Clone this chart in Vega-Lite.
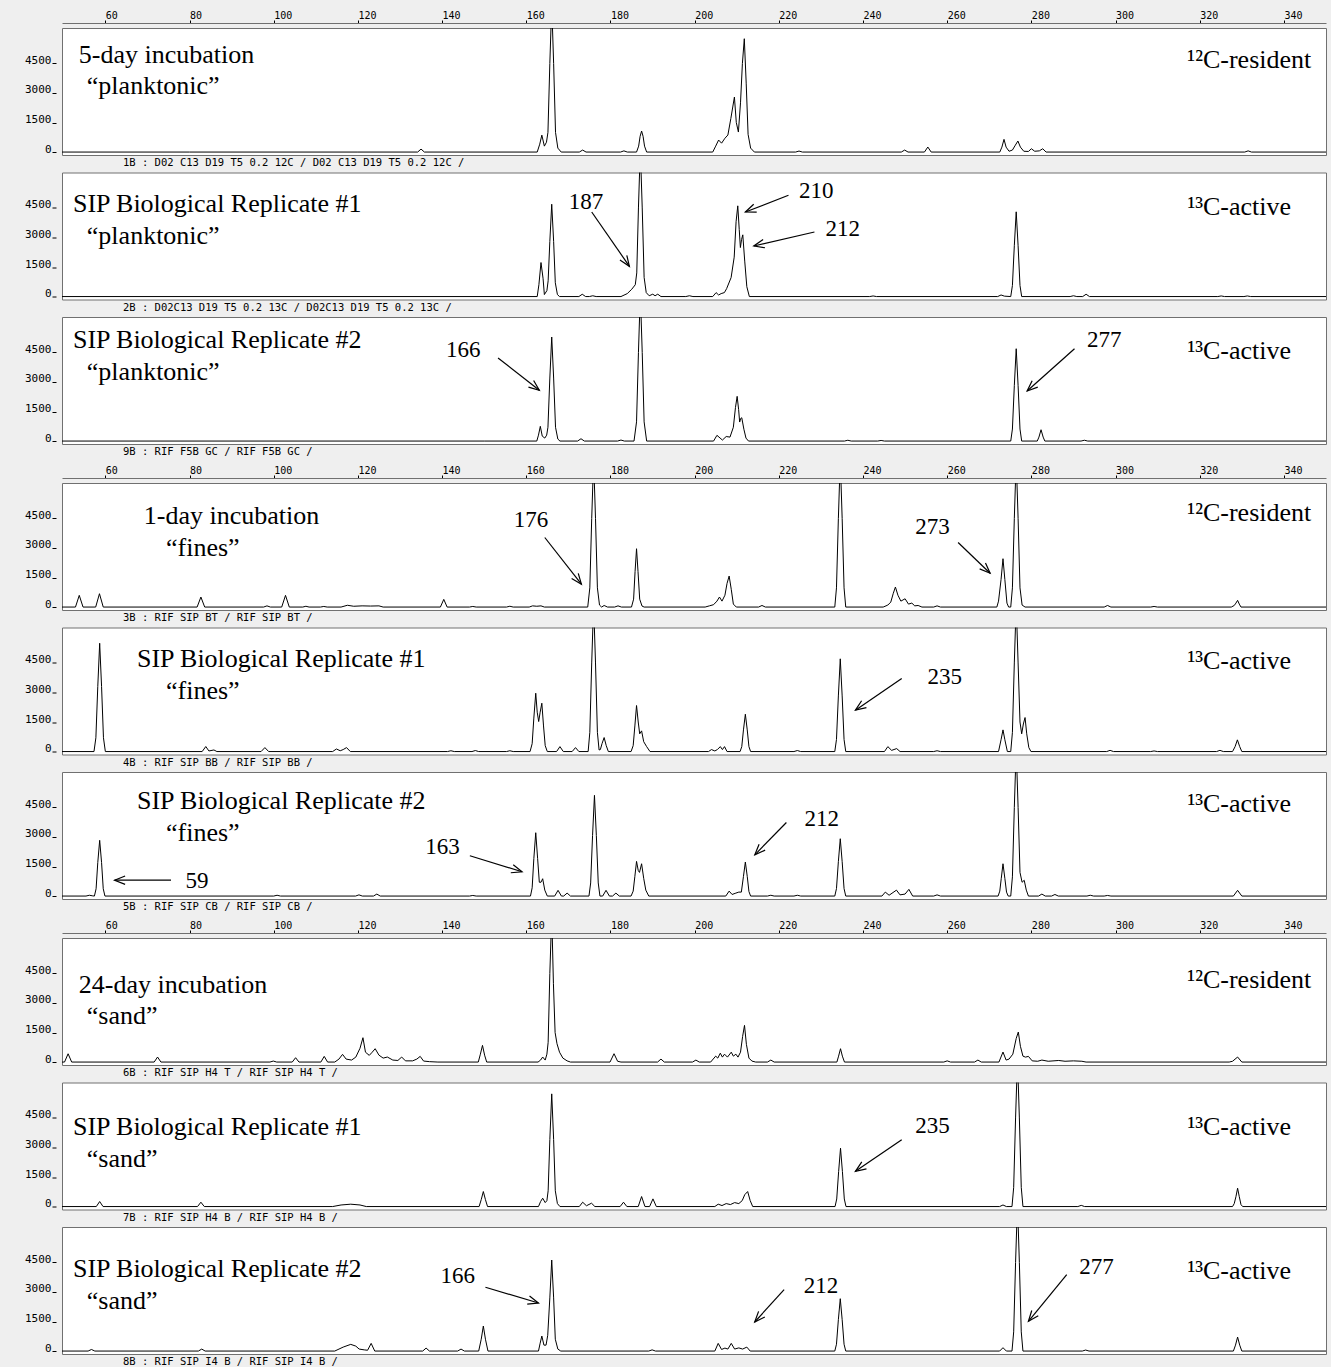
{
"$schema": "https://vega.github.io/schema/vega-lite/v6.json",
"background": "#efefef",
"padding": {"left": 24, "top": 9, "right": 6, "bottom": 0},
"bounds": "flush",
"spacing": 17.5,
"config": {
  "view": {"stroke": "#707070", "strokeWidth": 1, "fill": "white"},
  "axis": {"labelFont": "DejaVu Sans Mono", "labelColor": "black", "tickColor": "black", "grid": false, "title": null},
  "title": {"font": "DejaVu Sans Mono", "fontSize": 10.5, "fontWeight": "normal", "color": "black"}
},
"datasets": {
"t1": [{"x":49.7,"y":0},{"x":80,"y":0},{"x":120,"y":0},{"x":134.2,"y":0},{"x":135,"y":150},{"x":135.8,"y":0},{"x":162.6,"y":0},{"x":163.2,"y":400},{"x":163.7,"y":860},{"x":164.3,"y":300},{"x":164.8,"y":500},{"x":165.15,"y":1000},{"x":165.6,"y":4500},{"x":166.05,"y":7500},{"x":166.5,"y":4500},{"x":166.95,"y":1000},{"x":167.5,"y":200},{"x":168.3,"y":0},{"x":172.6,"y":0},{"x":173.4,"y":100},{"x":174.2,"y":0},{"x":182.4,"y":0},{"x":183.2,"y":60},{"x":184.0,"y":0},{"x":186.2,"y":0},{"x":186.7,"y":300},{"x":187.05,"y":800},{"x":187.4,"y":1067},{"x":187.75,"y":800},{"x":188.1,"y":300},{"x":188.6,"y":0},{"x":204.3,"y":0},{"x":205.0,"y":300},{"x":205.7,"y":610},{"x":206.4,"y":450},{"x":207.2,"y":700},{"x":207.9,"y":864},{"x":208.6,"y":1700},{"x":209.45,"y":2794},{"x":209.9,"y":1500},{"x":210.4,"y":1016},{"x":210.9,"y":2500},{"x":211.35,"y":4500},{"x":211.8,"y":5755},{"x":212.25,"y":3500},{"x":212.7,"y":900},{"x":213.3,"y":200},{"x":214.2,"y":0},{"x":224.0,"y":0},{"x":224.8,"y":50},{"x":225.6,"y":0},{"x":249.1,"y":0},{"x":249.9,"y":100},{"x":250.7,"y":0},{"x":254.6,"y":0},{"x":255.4,"y":254},{"x":256.2,"y":0},{"x":272.5,"y":0},{"x":273.0,"y":250},{"x":273.5,"y":645},{"x":274.0,"y":250},{"x":274.7,"y":40},{"x":275.5,"y":100},{"x":276.2,"y":350},{"x":276.8,"y":560},{"x":277.4,"y":250},{"x":278.2,"y":40},{"x":279.3,"y":30},{"x":280.0,"y":168},{"x":280.8,"y":40},{"x":281.9,"y":60},{"x":282.7,"y":168},{"x":283.5,"y":0},{"x":330.7,"y":0},{"x":331.5,"y":60},{"x":332.3,"y":0},{"x":350,"y":0}],
"t2": [{"x":49.7,"y":0},{"x":162.6,"y":0},{"x":163.0,"y":600},{"x":163.5,"y":1727},{"x":164.0,"y":900},{"x":164.3,"y":100},{"x":164.9,"y":300},{"x":165.2,"y":800},{"x":165.6,"y":2800},{"x":166.05,"y":4689},{"x":166.5,"y":2800},{"x":166.9,"y":700},{"x":167.4,"y":100},{"x":167.9,"y":0},{"x":172.5,"y":0},{"x":173.3,"y":117},{"x":174.1,"y":0},{"x":175.0,"y":0},{"x":175.8,"y":40},{"x":176.6,"y":0},{"x":182.5,"y":0},{"x":184.0,"y":150},{"x":185.06,"y":370},{"x":185.9,"y":600},{"x":186.25,"y":1200},{"x":186.65,"y":4500},{"x":187.1,"y":7500},{"x":187.55,"y":4500},{"x":188.0,"y":975},{"x":188.5,"y":200},{"x":189.2,"y":40},{"x":190.05,"y":120},{"x":190.6,"y":40},{"x":191.24,"y":120},{"x":192.0,"y":0},{"x":197.9,"y":0},{"x":198.75,"y":40},{"x":199.6,"y":0},{"x":204.3,"y":0},{"x":205.1,"y":200},{"x":205.7,"y":80},{"x":206.3,"y":150},{"x":207.07,"y":200},{"x":207.6,"y":400},{"x":208.67,"y":965},{"x":209.4,"y":2000},{"x":209.85,"y":3800},{"x":210.25,"y":4607},{"x":210.6,"y":3400},{"x":210.87,"y":2489},{"x":211.15,"y":2900},{"x":211.44,"y":3134},{"x":211.9,"y":1800},{"x":212.4,"y":500},{"x":213.0,"y":0},{"x":241.6,"y":0},{"x":242.4,"y":30},{"x":243.2,"y":0},{"x":272.0,"y":0},{"x":272.8,"y":80},{"x":273.6,"y":20},{"x":275.1,"y":0},{"x":275.5,"y":560},{"x":275.95,"y":2580},{"x":276.4,"y":4303},{"x":276.85,"y":2580},{"x":277.3,"y":560},{"x":277.7,"y":0},{"x":289.2,"y":0},{"x":290,"y":40},{"x":290.8,"y":0},{"x":292.2,"y":0},{"x":293.0,"y":117},{"x":293.8,"y":0},{"x":324.3,"y":0},{"x":325.1,"y":30},{"x":325.9,"y":0},{"x":330.5,"y":0},{"x":331.3,"y":30},{"x":332.1,"y":0},{"x":350,"y":0}],
"t3": [{"x":49.7,"y":0},{"x":150,"y":0},{"x":162.5,"y":0},{"x":162.9,"y":300},{"x":163.34,"y":747},{"x":163.8,"y":250},{"x":164.4,"y":150},{"x":164.85,"y":300},{"x":165.15,"y":700},{"x":165.6,"y":3200},{"x":166.05,"y":5283},{"x":166.5,"y":3200},{"x":166.95,"y":700},{"x":167.5,"y":100},{"x":168.0,"y":0},{"x":172.2,"y":0},{"x":173.0,"y":117},{"x":173.8,"y":0},{"x":181.7,"y":0},{"x":182.5,"y":50},{"x":183.3,"y":0},{"x":185.6,"y":0},{"x":186.2,"y":975},{"x":186.65,"y":4500},{"x":187.1,"y":7500},{"x":187.55,"y":4500},{"x":188.0,"y":975},{"x":188.6,"y":0},{"x":204.5,"y":0},{"x":205.3,"y":290},{"x":206.6,"y":50},{"x":207.5,"y":230},{"x":208.4,"y":200},{"x":209.2,"y":700},{"x":209.7,"y":1700},{"x":210.1,"y":2270},{"x":210.45,"y":1600},{"x":210.7,"y":965},{"x":210.95,"y":1150},{"x":211.2,"y":1183},{"x":211.7,"y":600},{"x":212.2,"y":150},{"x":212.8,"y":0},{"x":235.6,"y":0},{"x":236.4,"y":40},{"x":237.2,"y":0},{"x":243.5,"y":0},{"x":244.3,"y":30},{"x":245.1,"y":0},{"x":275.1,"y":0},{"x":275.5,"y":610},{"x":275.95,"y":2813},{"x":276.4,"y":4689},{"x":276.85,"y":2813},{"x":277.3,"y":610},{"x":277.7,"y":0},{"x":281.4,"y":0},{"x":281.8,"y":200},{"x":282.3,"y":574},{"x":282.8,"y":200},{"x":283.2,"y":0},{"x":291.8,"y":0},{"x":292.6,"y":40},{"x":293.4,"y":0},{"x":350,"y":0}],
"t4": [{"x":49.7,"y":0},{"x":52.9,"y":0},{"x":53.8,"y":594},{"x":54.7,"y":0},{"x":57.7,"y":0},{"x":58.6,"y":677},{"x":59.5,"y":0},{"x":81.8,"y":0},{"x":82.7,"y":508},{"x":83.6,"y":0},{"x":97.6,"y":0},{"x":98.4,"y":60},{"x":99.2,"y":0},{"x":101.9,"y":0},{"x":102.8,"y":594},{"x":103.7,"y":0},{"x":106.9,"y":0},{"x":107.65,"y":40},{"x":108.4,"y":0},{"x":111.1,"y":0},{"x":111.9,"y":30},{"x":112.7,"y":0},{"x":116.0,"y":0},{"x":117.5,"y":90},{"x":119,"y":40},{"x":121,"y":60},{"x":123,"y":50},{"x":125,"y":60},{"x":126,"y":0},{"x":139.6,"y":0},{"x":140.4,"y":390},{"x":141.2,"y":0},{"x":146.5,"y":0},{"x":147.3,"y":30},{"x":148.1,"y":0},{"x":155.3,"y":0},{"x":156.1,"y":40},{"x":156.9,"y":0},{"x":160.7,"y":0},{"x":161.5,"y":60},{"x":162.5,"y":40},{"x":163.5,"y":60},{"x":164.3,"y":0},{"x":174.6,"y":0},{"x":175.1,"y":975},{"x":175.55,"y":4500},{"x":176.0,"y":7500},{"x":176.45,"y":4500},{"x":176.9,"y":975},{"x":177.4,"y":100},{"x":177.9,"y":0},{"x":178.5,"y":80},{"x":179.3,"y":0},{"x":181.0,"y":0},{"x":181.8,"y":60},{"x":182.6,"y":0},{"x":185.0,"y":0},{"x":185.5,"y":400},{"x":185.85,"y":1800},{"x":186.2,"y":2962},{"x":186.55,"y":1800},{"x":186.95,"y":400},{"x":187.5,"y":50},{"x":188.0,"y":0},{"x":202.5,"y":0},{"x":203.5,"y":60},{"x":204.5,"y":120},{"x":205.3,"y":300},{"x":205.9,"y":508},{"x":206.5,"y":300},{"x":207.2,"y":600},{"x":207.7,"y":1200},{"x":208.2,"y":1575},{"x":208.7,"y":900},{"x":209.2,"y":150},{"x":209.9,"y":0},{"x":215.2,"y":0},{"x":216.0,"y":80},{"x":216.8,"y":0},{"x":233.3,"y":0},{"x":233.7,"y":975},{"x":234.15,"y":4500},{"x":234.6,"y":7500},{"x":235.05,"y":4500},{"x":235.5,"y":975},{"x":235.9,"y":0},{"x":244.8,"y":0},{"x":245.9,"y":100},{"x":246.6,"y":250},{"x":247.2,"y":700},{"x":247.7,"y":1016},{"x":248.3,"y":600},{"x":249.0,"y":300},{"x":250.0,"y":420},{"x":250.8,"y":150},{"x":251.6,"y":200},{"x":252.3,"y":60},{"x":253.1,"y":80},{"x":254.0,"y":0},{"x":256.8,"y":0},{"x":257.6,"y":60},{"x":258.4,"y":0},{"x":271.8,"y":0},{"x":272.2,"y":300},{"x":272.8,"y":1400},{"x":273.26,"y":2455},{"x":273.7,"y":1400},{"x":274.2,"y":200},{"x":274.6,"y":0},{"x":275.1,"y":0},{"x":275.5,"y":975},{"x":275.95,"y":4500},{"x":276.4,"y":7500},{"x":276.85,"y":4500},{"x":277.3,"y":975},{"x":277.8,"y":100},{"x":278.5,"y":0},{"x":297.3,"y":0},{"x":298.1,"y":80},{"x":298.9,"y":0},{"x":308.35,"y":0},{"x":309.15,"y":30},{"x":309.95,"y":0},{"x":327.5,"y":0},{"x":328.2,"y":80},{"x":328.6,"y":200},{"x":329.0,"y":340},{"x":329.4,"y":150},{"x":329.8,"y":0},{"x":350,"y":0}],
"t5": [{"x":49.7,"y":0},{"x":57.3,"y":0},{"x":57.75,"y":700},{"x":58.2,"y":3300},{"x":58.65,"y":5500},{"x":59.1,"y":3300},{"x":59.55,"y":700},{"x":60.0,"y":0},{"x":83.0,"y":0},{"x":83.86,"y":254},{"x":84.6,"y":30},{"x":85.8,"y":80},{"x":86.5,"y":0},{"x":97.0,"y":0},{"x":97.9,"y":200},{"x":98.8,"y":0},{"x":114.0,"y":0},{"x":114.9,"y":130},{"x":115.8,"y":40},{"x":116.5,"y":100},{"x":117.3,"y":200},{"x":118.2,"y":0},{"x":141.3,"y":0},{"x":142.1,"y":40},{"x":142.9,"y":0},{"x":147.1,"y":0},{"x":147.9,"y":50},{"x":148.7,"y":0},{"x":155.3,"y":0},{"x":156.1,"y":40},{"x":156.9,"y":0},{"x":160.9,"y":0},{"x":161.4,"y":400},{"x":161.8,"y":1700},{"x":162.25,"y":2962},{"x":162.6,"y":2000},{"x":162.95,"y":1524},{"x":163.3,"y":2000},{"x":163.7,"y":2455},{"x":164.1,"y":1300},{"x":164.5,"y":300},{"x":165.0,"y":0},{"x":167.2,"y":0},{"x":168.0,"y":250},{"x":168.8,"y":0},{"x":170.9,"y":0},{"x":171.7,"y":200},{"x":172.5,"y":0},{"x":174.7,"y":0},{"x":175.1,"y":975},{"x":175.55,"y":4500},{"x":176.0,"y":7500},{"x":176.45,"y":4500},{"x":176.9,"y":975},{"x":177.3,"y":80},{"x":177.6,"y":100},{"x":178.0,"y":400},{"x":178.5,"y":711},{"x":179.0,"y":300},{"x":179.5,"y":0},{"x":184.9,"y":0},{"x":185.4,"y":300},{"x":185.8,"y":1300},{"x":186.2,"y":2337},{"x":186.6,"y":1500},{"x":186.95,"y":900},{"x":187.4,"y":1050},{"x":187.9,"y":500},{"x":188.6,"y":250},{"x":189.4,"y":0},{"x":203.3,"y":0},{"x":204.0,"y":100},{"x":204.8,"y":30},{"x":205.4,"y":100},{"x":206.1,"y":250},{"x":206.6,"y":100},{"x":207.1,"y":250},{"x":207.7,"y":0},{"x":210.8,"y":0},{"x":211.2,"y":250},{"x":211.6,"y":1100},{"x":212.05,"y":1895},{"x":212.5,"y":1100},{"x":212.9,"y":250},{"x":213.3,"y":0},{"x":223.6,"y":0},{"x":224.4,"y":50},{"x":225.2,"y":0},{"x":233.3,"y":0},{"x":233.7,"y":612},{"x":234.15,"y":2825},{"x":234.6,"y":4709},{"x":235.05,"y":2825},{"x":235.5,"y":612},{"x":235.9,"y":0},{"x":245.1,"y":0},{"x":245.9,"y":250},{"x":246.8,"y":60},{"x":248.0,"y":150},{"x":248.8,"y":0},{"x":256.8,"y":0},{"x":257.6,"y":40},{"x":258.4,"y":0},{"x":272.2,"y":0},{"x":272.8,"y":600},{"x":273.26,"y":1100},{"x":273.7,"y":600},{"x":274.3,"y":0},{"x":275.1,"y":0},{"x":275.5,"y":975},{"x":275.95,"y":4500},{"x":276.4,"y":7500},{"x":276.85,"y":4500},{"x":277.3,"y":1500},{"x":277.7,"y":900},{"x":278.1,"y":1400},{"x":278.5,"y":1727},{"x":278.9,"y":900},{"x":279.4,"y":200},{"x":279.9,"y":0},{"x":297.9,"y":0},{"x":298.7,"y":60},{"x":299.5,"y":0},{"x":308.35,"y":0},{"x":309.15,"y":30},{"x":309.95,"y":0},{"x":324.0,"y":0},{"x":324.8,"y":60},{"x":325.6,"y":0},{"x":327.8,"y":0},{"x":328.4,"y":250},{"x":328.95,"y":594},{"x":329.5,"y":250},{"x":330.0,"y":0},{"x":350,"y":0}],
"t6": [{"x":49.7,"y":0},{"x":55.4,"y":0},{"x":56.2,"y":40},{"x":57.0,"y":10},{"x":57.4,"y":0},{"x":57.8,"y":370},{"x":58.2,"y":1700},{"x":58.65,"y":2830},{"x":59.1,"y":1700},{"x":59.5,"y":370},{"x":59.9,"y":0},{"x":100.0,"y":0},{"x":100.8,"y":40},{"x":101.6,"y":0},{"x":119.45,"y":0},{"x":120.25,"y":60},{"x":121.05,"y":0},{"x":123.7,"y":0},{"x":124.5,"y":100},{"x":125.3,"y":0},{"x":146.5,"y":0},{"x":147.3,"y":30},{"x":148.1,"y":0},{"x":161.0,"y":0},{"x":161.4,"y":420},{"x":161.8,"y":1900},{"x":162.25,"y":3216},{"x":162.7,"y":1900},{"x":163.1,"y":700},{"x":163.5,"y":700},{"x":163.9,"y":880},{"x":164.4,"y":300},{"x":165.0,"y":0},{"x":166.75,"y":0},{"x":167.55,"y":290},{"x":168.35,"y":0},{"x":168.9,"y":0},{"x":169.7,"y":150},{"x":170.5,"y":0},{"x":174.9,"y":0},{"x":175.3,"y":665},{"x":175.75,"y":3070},{"x":176.2,"y":5115},{"x":176.65,"y":3070},{"x":177.1,"y":665},{"x":177.5,"y":0},{"x":178.15,"y":0},{"x":178.95,"y":290},{"x":179.75,"y":0},{"x":180.5,"y":0},{"x":181.3,"y":150},{"x":182.1,"y":0},{"x":184.9,"y":0},{"x":185.4,"y":250},{"x":185.8,"y":1000},{"x":186.2,"y":1760},{"x":186.6,"y":1300},{"x":186.9,"y":1200},{"x":187.4,"y":1640},{"x":187.9,"y":900},{"x":188.4,"y":300},{"x":189.1,"y":0},{"x":207.4,"y":0},{"x":208.2,"y":250},{"x":208.9,"y":80},{"x":209.8,"y":150},{"x":210.5,"y":200},{"x":211.1,"y":200},{"x":211.6,"y":1000},{"x":212.05,"y":1727},{"x":212.5,"y":1000},{"x":212.9,"y":230},{"x":213.3,"y":0},{"x":217.3,"y":0},{"x":218.1,"y":40},{"x":218.9,"y":0},{"x":223.6,"y":0},{"x":224.4,"y":40},{"x":225.2,"y":0},{"x":233.3,"y":0},{"x":233.7,"y":378},{"x":234.15,"y":1747},{"x":234.6,"y":2911},{"x":235.05,"y":1747},{"x":235.5,"y":378},{"x":235.9,"y":0},{"x":244.5,"y":0},{"x":245.3,"y":200},{"x":246.2,"y":40},{"x":247.95,"y":300},{"x":248.8,"y":60},{"x":250.0,"y":100},{"x":250.9,"y":340},{"x":251.8,"y":0},{"x":256.8,"y":0},{"x":257.6,"y":60},{"x":258.4,"y":0},{"x":272.1,"y":0},{"x":272.5,"y":250},{"x":272.85,"y":900},{"x":273.26,"y":1640},{"x":273.7,"y":900},{"x":274.1,"y":200},{"x":274.5,"y":0},{"x":275.1,"y":0},{"x":275.5,"y":975},{"x":275.95,"y":4500},{"x":276.4,"y":7500},{"x":276.85,"y":4500},{"x":277.3,"y":1200},{"x":277.8,"y":700},{"x":278.3,"y":800},{"x":278.8,"y":300},{"x":279.3,"y":0},{"x":281.7,"y":0},{"x":282.5,"y":100},{"x":283.3,"y":0},{"x":284.8,"y":0},{"x":285.6,"y":80},{"x":286.4,"y":0},{"x":293.2,"y":0},{"x":294.0,"y":40},{"x":294.8,"y":0},{"x":297.3,"y":0},{"x":298.1,"y":30},{"x":298.9,"y":0},{"x":328.0,"y":0},{"x":329.0,"y":290},{"x":330.0,"y":0},{"x":350,"y":0}],
"t7": [{"x":49.7,"y":0},{"x":50.3,"y":0},{"x":51.15,"y":420},{"x":52.0,"y":0},{"x":71.6,"y":0},{"x":72.4,"y":254},{"x":73.2,"y":0},{"x":99.1,"y":0},{"x":99.9,"y":50},{"x":100.7,"y":0},{"x":104.4,"y":0},{"x":105.2,"y":220},{"x":106.0,"y":0},{"x":111.2,"y":0},{"x":112.0,"y":288},{"x":112.8,"y":0},{"x":114.5,"y":0},{"x":115.5,"y":150},{"x":116.35,"y":390},{"x":117.2,"y":150},{"x":118.5,"y":100},{"x":119.5,"y":250},{"x":120.5,"y":700},{"x":121.2,"y":1236},{"x":121.8,"y":500},{"x":122.7,"y":339},{"x":123.4,"y":500},{"x":124.1,"y":677},{"x":125.0,"y":350},{"x":126.0,"y":200},{"x":127.0,"y":254},{"x":128.3,"y":100},{"x":129.5,"y":80},{"x":130.4,"y":254},{"x":131.3,"y":60},{"x":133.0,"y":60},{"x":134.0,"y":150},{"x":134.8,"y":288},{"x":135.6,"y":50},{"x":137.0,"y":20},{"x":139,"y":0},{"x":148.6,"y":0},{"x":149.1,"y":400},{"x":149.6,"y":847},{"x":150.1,"y":350},{"x":150.6,"y":0},{"x":162.8,"y":0},{"x":163.4,"y":100},{"x":163.9,"y":254},{"x":164.5,"y":100},{"x":164.9,"y":400},{"x":165.2,"y":1000},{"x":165.6,"y":4500},{"x":166.05,"y":7500},{"x":166.45,"y":4000},{"x":166.85,"y":1500},{"x":167.3,"y":931},{"x":167.9,"y":500},{"x":168.7,"y":200},{"x":169.7,"y":60},{"x":170.5,"y":0},{"x":179.9,"y":0},{"x":180.85,"y":423},{"x":181.7,"y":40},{"x":182.5,"y":0},{"x":191.2,"y":0},{"x":192.0,"y":150},{"x":192.8,"y":0},{"x":199.5,"y":0},{"x":200.3,"y":100},{"x":201.1,"y":0},{"x":203.8,"y":0},{"x":205.0,"y":300},{"x":205.5,"y":200},{"x":206.1,"y":450},{"x":206.6,"y":250},{"x":207.1,"y":400},{"x":207.8,"y":250},{"x":208.7,"y":500},{"x":209.2,"y":300},{"x":209.8,"y":400},{"x":210.3,"y":250},{"x":210.9,"y":500},{"x":211.4,"y":1300},{"x":211.85,"y":1863},{"x":212.3,"y":900},{"x":212.9,"y":200},{"x":213.6,"y":50},{"x":214.5,"y":0},{"x":217.3,"y":0},{"x":218.1,"y":100},{"x":218.9,"y":0},{"x":233.8,"y":0},{"x":234.2,"y":300},{"x":234.66,"y":677},{"x":235.1,"y":300},{"x":235.6,"y":0},{"x":259.2,"y":0},{"x":260.0,"y":60},{"x":260.8,"y":0},{"x":266.5,"y":0},{"x":267.3,"y":100},{"x":268.1,"y":0},{"x":272.3,"y":0},{"x":273.26,"y":508},{"x":274.0,"y":100},{"x":274.7,"y":150},{"x":275.6,"y":400},{"x":276.4,"y":1200},{"x":276.9,"y":1524},{"x":277.4,"y":800},{"x":278.0,"y":300},{"x":278.6,"y":250},{"x":279.3,"y":288},{"x":280.2,"y":60},{"x":281.5,"y":40},{"x":282.5,"y":100},{"x":284.0,"y":40},{"x":286.5,"y":80},{"x":288.0,"y":40},{"x":290.0,"y":60},{"x":292.0,"y":40},{"x":293,"y":0},{"x":327.0,"y":0},{"x":327.8,"y":40},{"x":329.0,"y":254},{"x":330.0,"y":0},{"x":350,"y":0}],
"t8": [{"x":49.7,"y":0},{"x":57.85,"y":0},{"x":58.65,"y":254},{"x":59.45,"y":0},{"x":81.9,"y":0},{"x":82.7,"y":220},{"x":83.5,"y":0},{"x":114.0,"y":0},{"x":116.0,"y":80},{"x":118.3,"y":119},{"x":120.5,"y":80},{"x":122.0,"y":0},{"x":148.8,"y":0},{"x":149.3,"y":350},{"x":149.8,"y":762},{"x":150.3,"y":350},{"x":150.8,"y":0},{"x":162.9,"y":0},{"x":163.4,"y":250},{"x":163.9,"y":423},{"x":164.5,"y":200},{"x":164.9,"y":300},{"x":165.2,"y":800},{"x":165.6,"y":3400},{"x":166.05,"y":5723},{"x":166.5,"y":3400},{"x":166.9,"y":800},{"x":167.4,"y":150},{"x":168.0,"y":0},{"x":172.6,"y":0},{"x":173.4,"y":220},{"x":174.3,"y":40},{"x":175.5,"y":170},{"x":176.3,"y":0},{"x":182.3,"y":0},{"x":183.1,"y":220},{"x":183.9,"y":0},{"x":186.6,"y":0},{"x":187.4,"y":508},{"x":188.2,"y":0},{"x":189.3,"y":0},{"x":190.1,"y":390},{"x":190.9,"y":0},{"x":204.8,"y":0},{"x":205.6,"y":120},{"x":206.5,"y":50},{"x":207.5,"y":150},{"x":208.5,"y":100},{"x":209.5,"y":200},{"x":210.5,"y":150},{"x":211.3,"y":300},{"x":211.9,"y":600},{"x":212.6,"y":762},{"x":213.2,"y":300},{"x":213.8,"y":0},{"x":233.36,"y":0},{"x":233.76,"y":385},{"x":234.21,"y":1778},{"x":234.66,"y":2963},{"x":235.11,"y":1778},{"x":235.56,"y":385},{"x":235.96,"y":0},{"x":272.46,"y":0},{"x":273.26,"y":80},{"x":274.06,"y":0},{"x":275.4,"y":0},{"x":275.8,"y":975},{"x":276.25,"y":4500},{"x":276.7,"y":7500},{"x":277.15,"y":4500},{"x":277.6,"y":975},{"x":278.0,"y":0},{"x":291.05,"y":0},{"x":291.85,"y":60},{"x":292.65,"y":0},{"x":327.8,"y":0},{"x":328.2,"y":150},{"x":328.6,"y":500},{"x":329.0,"y":931},{"x":329.4,"y":500},{"x":329.8,"y":100},{"x":330.2,"y":0},{"x":350,"y":0}],
"t9": [{"x":49.7,"y":0},{"x":55.9,"y":0},{"x":56.7,"y":80},{"x":57.5,"y":0},{"x":82.1,"y":0},{"x":82.9,"y":100},{"x":83.7,"y":0},{"x":114.5,"y":0},{"x":116.5,"y":200},{"x":118.3,"y":339},{"x":119.5,"y":250},{"x":120.3,"y":100},{"x":121.5,"y":60},{"x":122.3,"y":40},{"x":123.15,"y":389},{"x":124.0,"y":0},{"x":135.4,"y":0},{"x":136.2,"y":150},{"x":137.0,"y":0},{"x":143.7,"y":0},{"x":144.5,"y":100},{"x":145.3,"y":0},{"x":148.7,"y":0},{"x":149.3,"y":600},{"x":149.8,"y":1270},{"x":150.3,"y":600},{"x":150.9,"y":0},{"x":162.9,"y":0},{"x":163.3,"y":400},{"x":163.7,"y":762},{"x":164.2,"y":300},{"x":164.7,"y":300},{"x":165.1,"y":800},{"x":165.6,"y":2700},{"x":166.05,"y":4623},{"x":166.5,"y":2700},{"x":166.9,"y":600},{"x":167.5,"y":100},{"x":168.2,"y":0},{"x":189.1,"y":0},{"x":189.9,"y":60},{"x":190.7,"y":0},{"x":204.8,"y":0},{"x":205.6,"y":389},{"x":206.4,"y":80},{"x":207.2,"y":150},{"x":207.9,"y":100},{"x":208.7,"y":389},{"x":209.5,"y":100},{"x":210.5,"y":160},{"x":211.4,"y":100},{"x":212.4,"y":200},{"x":213.2,"y":0},{"x":233.3,"y":0},{"x":233.7,"y":346},{"x":234.15,"y":1595},{"x":234.6,"y":2659},{"x":235.05,"y":1595},{"x":235.5,"y":346},{"x":235.9,"y":0},{"x":272.46,"y":0},{"x":273.26,"y":170},{"x":274.06,"y":0},{"x":275.4,"y":0},{"x":275.8,"y":975},{"x":276.25,"y":4500},{"x":276.7,"y":7500},{"x":277.15,"y":4500},{"x":277.6,"y":975},{"x":278.0,"y":0},{"x":292.1,"y":0},{"x":292.9,"y":50},{"x":293.7,"y":0},{"x":328.0,"y":0},{"x":328.5,"y":300},{"x":329.0,"y":711},{"x":329.5,"y":300},{"x":330.0,"y":0},{"x":350,"y":0}],
"ti": [{"p":1,"x":53.7,"y":4929,"t":"5-day incubation"},{"p":1,"x":55.6,"y":3355,"t":"“planktonic”"},{"p":2,"x":52.3,"y":4675,"t":"SIP Biological Replicate #1"},{"p":2,"x":55.6,"y":3050,"t":"“planktonic”"},{"p":3,"x":52.3,"y":5133,"t":"SIP Biological Replicate #2"},{"p":3,"x":55.6,"y":3507,"t":"“planktonic”"},{"p":4,"x":69.15,"y":4599,"t":"1-day incubation"},{"p":4,"x":74.4,"y":2974,"t":"“fines”"},{"p":5,"x":67.5,"y":4675,"t":"SIP Biological Replicate #1"},{"p":5,"x":74.4,"y":3050,"t":"“fines”"},{"p":6,"x":67.5,"y":4802,"t":"SIP Biological Replicate #2"},{"p":6,"x":74.4,"y":3202,"t":"“fines”"},{"p":7,"x":53.7,"y":3913,"t":"24-day incubation"},{"p":7,"x":55.6,"y":2339,"t":"“sand”"},{"p":8,"x":52.3,"y":4065,"t":"SIP Biological Replicate #1"},{"p":8,"x":55.6,"y":2440,"t":"“sand”"},{"p":9,"x":52.3,"y":4167,"t":"SIP Biological Replicate #2"},{"p":9,"x":55.6,"y":2542,"t":"“sand”"}],
"tg": [{"p":1,"x":346.5,"y":4675,"t":"¹²C-resident"},{"p":2,"x":341.7,"y":4523,"t":"¹³C-active"},{"p":3,"x":341.7,"y":4573,"t":"¹³C-active"},{"p":4,"x":346.5,"y":4751,"t":"¹²C-resident"},{"p":5,"x":341.7,"y":4624,"t":"¹³C-active"},{"p":6,"x":341.7,"y":4675,"t":"¹³C-active"},{"p":7,"x":346.5,"y":4167,"t":"¹²C-resident"},{"p":8,"x":341.7,"y":4015,"t":"¹³C-active"},{"p":9,"x":341.7,"y":4065,"t":"¹³C-active"}],
"nm": [{"p":2,"x":174.2,"y":4777,"t":"187"},{"p":2,"x":228.9,"y":5346,"t":"210"},{"p":2,"x":235.2,"y":3446,"t":"212"},{"p":3,"x":145.0,"y":4624,"t":"166"},{"p":3,"x":297.3,"y":5133,"t":"277"},{"p":4,"x":161.1,"y":4396,"t":"176"},{"p":4,"x":256.5,"y":4040,"t":"273"},{"p":5,"x":259.45,"y":3761,"t":"235"},{"p":6,"x":81.75,"y":775,"t":"59"},{"p":6,"x":140.1,"y":2466,"t":"163"},{"p":6,"x":230.2,"y":3903,"t":"212"},{"p":8,"x":256.5,"y":4076,"t":"235"},{"p":9,"x":143.7,"y":3797,"t":"166"},{"p":9,"x":230.0,"y":3289,"t":"212"},{"p":9,"x":295.5,"y":4254,"t":"277"}],
"ar": [{"id":1,"p":2,"x":175.55,"y":4294,"x2":184.5,"y2":1536},{"id":2,"p":2,"x":222.3,"y":5142,"x2":212.06,"y2":4294},{"id":3,"p":2,"x":228.46,"y":3278,"x2":214.06,"y2":2567},{"id":4,"p":3,"x":153.3,"y":4218,"x2":163.1,"y2":2578},{"id":5,"p":3,"x":290.25,"y":4690,"x2":279.0,"y2":2542},{"id":6,"p":4,"x":164.4,"y":3532,"x2":173.1,"y2":1160},{"id":7,"p":4,"x":262.6,"y":3278,"x2":270.2,"y2":1719},{"id":8,"p":5,"x":249.2,"y":3710,"x2":238.2,"y2":2100},{"id":9,"p":6,"x":75.6,"y":805,"x2":62.2,"y2":805},{"id":10,"p":6,"x":146.6,"y":2044,"x2":159.0,"y2":1232},{"id":11,"p":6,"x":221.8,"y":3736,"x2":214.3,"y2":2095},{"id":12,"p":8,"x":249.2,"y":3395,"x2":238.2,"y2":1790},{"id":13,"p":9,"x":150.3,"y":3238,"x2":162.9,"y2":2440},{"id":14,"p":9,"x":221.26,"y":3116,"x2":214.27,"y2":1475},{"id":15,"p":9,"x":288.4,"y":3878,"x2":279.3,"y2":1511}]
},
"vconcat": [
{"width":1264,"height":127,
 "title":{"text":"1B : D02 C13 D19 T5 0.2 12C / D02 C13 D19 T5 0.2 12C /","orient":"bottom","anchor":"start","frame":"group","offset":3,"dx":61},
 "layer":[
  {"data":{"name":"t1"},"mark":{"type":"line","color":"black","strokeWidth":1,"clip":true},
   "encoding":{"x":{"field":"x","type":"quantitative","scale":{"domain":[49.7,350],"nice":false,"zero":false},"axis":{"orient":"top","values":[60,80,100,120,140,160,180,200,220,240,260,280,300,320,340],"offset":5,"tickSize":3,"labelAlign":"left","labelBaseline":"alphabetic","labelPadding":2,"labelFontSize":10,"labelFlush":false,"labelOverlap":false,"domainColor":"#707070","format":"d"}},
    "y":{"field":"y","type":"quantitative","scale":{"domain":[-150,6300],"nice":false,"zero":false},"axis":{"values":[0,1500,3000,4500],"format":"d","offset":6,"tickSize":4,"labelPadding":1,"labelBaseline":"alphabetic","labelFontSize":11,"domain":false,"labelFlush":false}}}},
  {"data":{"name":"ti"},"transform":[{"filter":"datum.p == 1"}],"mark":{"type":"text","align":"left","baseline":"middle","font":"Liberation Serif","fontSize":26,"color":"black"},"encoding":{"x":{"field":"x","type":"quantitative"},"y":{"field":"y","type":"quantitative"},"text":{"field":"t","type":"nominal"}}},
  {"data":{"name":"tg"},"transform":[{"filter":"datum.p == 1"}],"mark":{"type":"text","align":"right","baseline":"middle","font":"Liberation Serif","fontSize":26,"color":"black"},"encoding":{"x":{"field":"x","type":"quantitative"},"y":{"field":"y","type":"quantitative"},"text":{"field":"t","type":"nominal"}}}
 ]},
{"width":1264,"height":127,
 "title":{"text":"2B : D02C13 D19 T5 0.2 13C / D02C13 D19 T5 0.2 13C /","orient":"bottom","anchor":"start","frame":"group","offset":3,"dx":61},
 "layer":[
  {"data":{"name":"t2"},"mark":{"type":"line","color":"black","strokeWidth":1,"clip":true},
   "encoding":{"x":{"field":"x","type":"quantitative","scale":{"domain":[49.7,350],"nice":false,"zero":false},"axis":null},
    "y":{"field":"y","type":"quantitative","scale":{"domain":[-150,6300],"nice":false,"zero":false},"axis":{"values":[0,1500,3000,4500],"format":"d","offset":6,"tickSize":4,"labelPadding":1,"labelBaseline":"alphabetic","labelFontSize":11,"domain":false,"labelFlush":false}}}},
  {"data":{"name":"ti"},"transform":[{"filter":"datum.p == 2"}],"mark":{"type":"text","align":"left","baseline":"middle","font":"Liberation Serif","fontSize":26,"color":"black"},"encoding":{"x":{"field":"x","type":"quantitative"},"y":{"field":"y","type":"quantitative"},"text":{"field":"t","type":"nominal"}}},
  {"data":{"name":"tg"},"transform":[{"filter":"datum.p == 2"}],"mark":{"type":"text","align":"right","baseline":"middle","font":"Liberation Serif","fontSize":26,"color":"black"},"encoding":{"x":{"field":"x","type":"quantitative"},"y":{"field":"y","type":"quantitative"},"text":{"field":"t","type":"nominal"}}},
  {"data":{"name":"nm"},"transform":[{"filter":"datum.p == 2"}],"mark":{"type":"text","align":"center","baseline":"middle","font":"Liberation Serif","fontSize":23,"color":"black"},"encoding":{"x":{"field":"x","type":"quantitative"},"y":{"field":"y","type":"quantitative"},"text":{"field":"t","type":"nominal"}}},
  {"data":{"name":"ar"},"transform":[{"filter":"datum.p == 2"}],"mark":{"type":"rule","color":"black","strokeWidth":1.2},"encoding":{"x":{"field":"x","type":"quantitative"},"y":{"field":"y","type":"quantitative"},"x2":{"field":"x2"},"y2":{"field":"y2"}}},
  {"data":{"name":"ar"},"transform":[{"filter":"datum.id == 1"}],"mark":{"type":"point","shape":"M -0.4 1 L 0 0 L 0.4 1","angle":145,"size":441,"filled":false,"color":"black","strokeWidth":1.2,"opacity":1},"encoding":{"x":{"field":"x2","type":"quantitative"},"y":{"field":"y2","type":"quantitative"}}},
  {"data":{"name":"ar"},"transform":[{"filter":"datum.id == 2"}],"mark":{"type":"point","shape":"M -0.4 1 L 0 0 L 0.4 1","angle":249,"size":441,"filled":false,"color":"black","strokeWidth":1.2,"opacity":1},"encoding":{"x":{"field":"x2","type":"quantitative"},"y":{"field":"y2","type":"quantitative"}}},
  {"data":{"name":"ar"},"transform":[{"filter":"datum.id == 3"}],"mark":{"type":"point","shape":"M -0.4 1 L 0 0 L 0.4 1","angle":257,"size":441,"filled":false,"color":"black","strokeWidth":1.2,"opacity":1},"encoding":{"x":{"field":"x2","type":"quantitative"},"y":{"field":"y2","type":"quantitative"}}}
 ]},
{"width":1264,"height":127,
 "title":{"text":"9B : RIF F5B GC / RIF F5B GC /","orient":"bottom","anchor":"start","frame":"group","offset":3,"dx":61},
 "layer":[
  {"data":{"name":"t3"},"mark":{"type":"line","color":"black","strokeWidth":1,"clip":true},
   "encoding":{"x":{"field":"x","type":"quantitative","scale":{"domain":[49.7,350],"nice":false,"zero":false},"axis":null},
    "y":{"field":"y","type":"quantitative","scale":{"domain":[-150,6300],"nice":false,"zero":false},"axis":{"values":[0,1500,3000,4500],"format":"d","offset":6,"tickSize":4,"labelPadding":1,"labelBaseline":"alphabetic","labelFontSize":11,"domain":false,"labelFlush":false}}}},
  {"data":{"name":"ti"},"transform":[{"filter":"datum.p == 3"}],"mark":{"type":"text","align":"left","baseline":"middle","font":"Liberation Serif","fontSize":26,"color":"black"},"encoding":{"x":{"field":"x","type":"quantitative"},"y":{"field":"y","type":"quantitative"},"text":{"field":"t","type":"nominal"}}},
  {"data":{"name":"tg"},"transform":[{"filter":"datum.p == 3"}],"mark":{"type":"text","align":"right","baseline":"middle","font":"Liberation Serif","fontSize":26,"color":"black"},"encoding":{"x":{"field":"x","type":"quantitative"},"y":{"field":"y","type":"quantitative"},"text":{"field":"t","type":"nominal"}}},
  {"data":{"name":"nm"},"transform":[{"filter":"datum.p == 3"}],"mark":{"type":"text","align":"center","baseline":"middle","font":"Liberation Serif","fontSize":23,"color":"black"},"encoding":{"x":{"field":"x","type":"quantitative"},"y":{"field":"y","type":"quantitative"},"text":{"field":"t","type":"nominal"}}},
  {"data":{"name":"ar"},"transform":[{"filter":"datum.p == 3"}],"mark":{"type":"rule","color":"black","strokeWidth":1.2},"encoding":{"x":{"field":"x","type":"quantitative"},"y":{"field":"y","type":"quantitative"},"x2":{"field":"x2"},"y2":{"field":"y2"}}},
  {"data":{"name":"ar"},"transform":[{"filter":"datum.id == 4"}],"mark":{"type":"point","shape":"M -0.4 1 L 0 0 L 0.4 1","angle":128,"size":441,"filled":false,"color":"black","strokeWidth":1.2,"opacity":1},"encoding":{"x":{"field":"x2","type":"quantitative"},"y":{"field":"y2","type":"quantitative"}}},
  {"data":{"name":"ar"},"transform":[{"filter":"datum.id == 5"}],"mark":{"type":"point","shape":"M -0.4 1 L 0 0 L 0.4 1","angle":228,"size":441,"filled":false,"color":"black","strokeWidth":1.2,"opacity":1},"encoding":{"x":{"field":"x2","type":"quantitative"},"y":{"field":"y2","type":"quantitative"}}}
 ]},
{"width":1264,"height":3.5,"data":{"values":[]},"mark":{"type":"rule","opacity":0},"encoding":{},"view":{"stroke":null,"fill":null}},
{"width":1264,"height":127,
 "title":{"text":"3B : RIF SIP BT / RIF SIP BT /","orient":"bottom","anchor":"start","frame":"group","offset":3,"dx":61},
 "layer":[
  {"data":{"name":"t4"},"mark":{"type":"line","color":"black","strokeWidth":1,"clip":true},
   "encoding":{"x":{"field":"x","type":"quantitative","scale":{"domain":[49.7,350],"nice":false,"zero":false},"axis":{"orient":"top","values":[60,80,100,120,140,160,180,200,220,240,260,280,300,320,340],"offset":5,"tickSize":3,"labelAlign":"left","labelBaseline":"alphabetic","labelPadding":2,"labelFontSize":10,"labelFlush":false,"labelOverlap":false,"domainColor":"#707070","format":"d"}},
    "y":{"field":"y","type":"quantitative","scale":{"domain":[-150,6300],"nice":false,"zero":false},"axis":{"values":[0,1500,3000,4500],"format":"d","offset":6,"tickSize":4,"labelPadding":1,"labelBaseline":"alphabetic","labelFontSize":11,"domain":false,"labelFlush":false}}}},
  {"data":{"name":"ti"},"transform":[{"filter":"datum.p == 4"}],"mark":{"type":"text","align":"left","baseline":"middle","font":"Liberation Serif","fontSize":26,"color":"black"},"encoding":{"x":{"field":"x","type":"quantitative"},"y":{"field":"y","type":"quantitative"},"text":{"field":"t","type":"nominal"}}},
  {"data":{"name":"tg"},"transform":[{"filter":"datum.p == 4"}],"mark":{"type":"text","align":"right","baseline":"middle","font":"Liberation Serif","fontSize":26,"color":"black"},"encoding":{"x":{"field":"x","type":"quantitative"},"y":{"field":"y","type":"quantitative"},"text":{"field":"t","type":"nominal"}}},
  {"data":{"name":"nm"},"transform":[{"filter":"datum.p == 4"}],"mark":{"type":"text","align":"center","baseline":"middle","font":"Liberation Serif","fontSize":23,"color":"black"},"encoding":{"x":{"field":"x","type":"quantitative"},"y":{"field":"y","type":"quantitative"},"text":{"field":"t","type":"nominal"}}},
  {"data":{"name":"ar"},"transform":[{"filter":"datum.p == 4"}],"mark":{"type":"rule","color":"black","strokeWidth":1.2},"encoding":{"x":{"field":"x","type":"quantitative"},"y":{"field":"y","type":"quantitative"},"x2":{"field":"x2"},"y2":{"field":"y2"}}},
  {"data":{"name":"ar"},"transform":[{"filter":"datum.id == 6"}],"mark":{"type":"point","shape":"M -0.4 1 L 0 0 L 0.4 1","angle":142,"size":441,"filled":false,"color":"black","strokeWidth":1.2,"opacity":1},"encoding":{"x":{"field":"x2","type":"quantitative"},"y":{"field":"y2","type":"quantitative"}}},
  {"data":{"name":"ar"},"transform":[{"filter":"datum.id == 7"}],"mark":{"type":"point","shape":"M -0.4 1 L 0 0 L 0.4 1","angle":134,"size":441,"filled":false,"color":"black","strokeWidth":1.2,"opacity":1},"encoding":{"x":{"field":"x2","type":"quantitative"},"y":{"field":"y2","type":"quantitative"}}}
 ]},
{"width":1264,"height":127,
 "title":{"text":"4B : RIF SIP BB / RIF SIP BB /","orient":"bottom","anchor":"start","frame":"group","offset":3,"dx":61},
 "layer":[
  {"data":{"name":"t5"},"mark":{"type":"line","color":"black","strokeWidth":1,"clip":true},
   "encoding":{"x":{"field":"x","type":"quantitative","scale":{"domain":[49.7,350],"nice":false,"zero":false},"axis":null},
    "y":{"field":"y","type":"quantitative","scale":{"domain":[-150,6300],"nice":false,"zero":false},"axis":{"values":[0,1500,3000,4500],"format":"d","offset":6,"tickSize":4,"labelPadding":1,"labelBaseline":"alphabetic","labelFontSize":11,"domain":false,"labelFlush":false}}}},
  {"data":{"name":"ti"},"transform":[{"filter":"datum.p == 5"}],"mark":{"type":"text","align":"left","baseline":"middle","font":"Liberation Serif","fontSize":26,"color":"black"},"encoding":{"x":{"field":"x","type":"quantitative"},"y":{"field":"y","type":"quantitative"},"text":{"field":"t","type":"nominal"}}},
  {"data":{"name":"tg"},"transform":[{"filter":"datum.p == 5"}],"mark":{"type":"text","align":"right","baseline":"middle","font":"Liberation Serif","fontSize":26,"color":"black"},"encoding":{"x":{"field":"x","type":"quantitative"},"y":{"field":"y","type":"quantitative"},"text":{"field":"t","type":"nominal"}}},
  {"data":{"name":"nm"},"transform":[{"filter":"datum.p == 5"}],"mark":{"type":"text","align":"center","baseline":"middle","font":"Liberation Serif","fontSize":23,"color":"black"},"encoding":{"x":{"field":"x","type":"quantitative"},"y":{"field":"y","type":"quantitative"},"text":{"field":"t","type":"nominal"}}},
  {"data":{"name":"ar"},"transform":[{"filter":"datum.p == 5"}],"mark":{"type":"rule","color":"black","strokeWidth":1.2},"encoding":{"x":{"field":"x","type":"quantitative"},"y":{"field":"y","type":"quantitative"},"x2":{"field":"x2"},"y2":{"field":"y2"}}},
  {"data":{"name":"ar"},"transform":[{"filter":"datum.id == 8"}],"mark":{"type":"point","shape":"M -0.4 1 L 0 0 L 0.4 1","angle":235,"size":441,"filled":false,"color":"black","strokeWidth":1.2,"opacity":1},"encoding":{"x":{"field":"x2","type":"quantitative"},"y":{"field":"y2","type":"quantitative"}}}
 ]},
{"width":1264,"height":127,
 "title":{"text":"5B : RIF SIP CB / RIF SIP CB /","orient":"bottom","anchor":"start","frame":"group","offset":3,"dx":61},
 "layer":[
  {"data":{"name":"t6"},"mark":{"type":"line","color":"black","strokeWidth":1,"clip":true},
   "encoding":{"x":{"field":"x","type":"quantitative","scale":{"domain":[49.7,350],"nice":false,"zero":false},"axis":null},
    "y":{"field":"y","type":"quantitative","scale":{"domain":[-150,6300],"nice":false,"zero":false},"axis":{"values":[0,1500,3000,4500],"format":"d","offset":6,"tickSize":4,"labelPadding":1,"labelBaseline":"alphabetic","labelFontSize":11,"domain":false,"labelFlush":false}}}},
  {"data":{"name":"ti"},"transform":[{"filter":"datum.p == 6"}],"mark":{"type":"text","align":"left","baseline":"middle","font":"Liberation Serif","fontSize":26,"color":"black"},"encoding":{"x":{"field":"x","type":"quantitative"},"y":{"field":"y","type":"quantitative"},"text":{"field":"t","type":"nominal"}}},
  {"data":{"name":"tg"},"transform":[{"filter":"datum.p == 6"}],"mark":{"type":"text","align":"right","baseline":"middle","font":"Liberation Serif","fontSize":26,"color":"black"},"encoding":{"x":{"field":"x","type":"quantitative"},"y":{"field":"y","type":"quantitative"},"text":{"field":"t","type":"nominal"}}},
  {"data":{"name":"nm"},"transform":[{"filter":"datum.p == 6"}],"mark":{"type":"text","align":"center","baseline":"middle","font":"Liberation Serif","fontSize":23,"color":"black"},"encoding":{"x":{"field":"x","type":"quantitative"},"y":{"field":"y","type":"quantitative"},"text":{"field":"t","type":"nominal"}}},
  {"data":{"name":"ar"},"transform":[{"filter":"datum.p == 6"}],"mark":{"type":"rule","color":"black","strokeWidth":1.2},"encoding":{"x":{"field":"x","type":"quantitative"},"y":{"field":"y","type":"quantitative"},"x2":{"field":"x2"},"y2":{"field":"y2"}}},
  {"data":{"name":"ar"},"transform":[{"filter":"datum.id == 9"}],"mark":{"type":"point","shape":"M -0.4 1 L 0 0 L 0.4 1","angle":270,"size":441,"filled":false,"color":"black","strokeWidth":1.2,"opacity":1},"encoding":{"x":{"field":"x2","type":"quantitative"},"y":{"field":"y2","type":"quantitative"}}},
  {"data":{"name":"ar"},"transform":[{"filter":"datum.id == 10"}],"mark":{"type":"point","shape":"M -0.4 1 L 0 0 L 0.4 1","angle":107,"size":441,"filled":false,"color":"black","strokeWidth":1.2,"opacity":1},"encoding":{"x":{"field":"x2","type":"quantitative"},"y":{"field":"y2","type":"quantitative"}}},
  {"data":{"name":"ar"},"transform":[{"filter":"datum.id == 11"}],"mark":{"type":"point","shape":"M -0.4 1 L 0 0 L 0.4 1","angle":224,"size":441,"filled":false,"color":"black","strokeWidth":1.2,"opacity":1},"encoding":{"x":{"field":"x2","type":"quantitative"},"y":{"field":"y2","type":"quantitative"}}}
 ]},
{"width":1264,"height":3.5,"data":{"values":[]},"mark":{"type":"rule","opacity":0},"encoding":{},"view":{"stroke":null,"fill":null}},
{"width":1264,"height":127,
 "title":{"text":"6B : RIF SIP H4 T / RIF SIP H4 T /","orient":"bottom","anchor":"start","frame":"group","offset":3,"dx":61},
 "layer":[
  {"data":{"name":"t7"},"mark":{"type":"line","color":"black","strokeWidth":1,"clip":true},
   "encoding":{"x":{"field":"x","type":"quantitative","scale":{"domain":[49.7,350],"nice":false,"zero":false},"axis":{"orient":"top","values":[60,80,100,120,140,160,180,200,220,240,260,280,300,320,340],"offset":5,"tickSize":3,"labelAlign":"left","labelBaseline":"alphabetic","labelPadding":2,"labelFontSize":10,"labelFlush":false,"labelOverlap":false,"domainColor":"#707070","format":"d"}},
    "y":{"field":"y","type":"quantitative","scale":{"domain":[-150,6300],"nice":false,"zero":false},"axis":{"values":[0,1500,3000,4500],"format":"d","offset":6,"tickSize":4,"labelPadding":1,"labelBaseline":"alphabetic","labelFontSize":11,"domain":false,"labelFlush":false}}}},
  {"data":{"name":"ti"},"transform":[{"filter":"datum.p == 7"}],"mark":{"type":"text","align":"left","baseline":"middle","font":"Liberation Serif","fontSize":26,"color":"black"},"encoding":{"x":{"field":"x","type":"quantitative"},"y":{"field":"y","type":"quantitative"},"text":{"field":"t","type":"nominal"}}},
  {"data":{"name":"tg"},"transform":[{"filter":"datum.p == 7"}],"mark":{"type":"text","align":"right","baseline":"middle","font":"Liberation Serif","fontSize":26,"color":"black"},"encoding":{"x":{"field":"x","type":"quantitative"},"y":{"field":"y","type":"quantitative"},"text":{"field":"t","type":"nominal"}}}
 ]},
{"width":1264,"height":127,
 "title":{"text":"7B : RIF SIP H4 B / RIF SIP H4 B /","orient":"bottom","anchor":"start","frame":"group","offset":3,"dx":61},
 "layer":[
  {"data":{"name":"t8"},"mark":{"type":"line","color":"black","strokeWidth":1,"clip":true},
   "encoding":{"x":{"field":"x","type":"quantitative","scale":{"domain":[49.7,350],"nice":false,"zero":false},"axis":null},
    "y":{"field":"y","type":"quantitative","scale":{"domain":[-150,6300],"nice":false,"zero":false},"axis":{"values":[0,1500,3000,4500],"format":"d","offset":6,"tickSize":4,"labelPadding":1,"labelBaseline":"alphabetic","labelFontSize":11,"domain":false,"labelFlush":false}}}},
  {"data":{"name":"ti"},"transform":[{"filter":"datum.p == 8"}],"mark":{"type":"text","align":"left","baseline":"middle","font":"Liberation Serif","fontSize":26,"color":"black"},"encoding":{"x":{"field":"x","type":"quantitative"},"y":{"field":"y","type":"quantitative"},"text":{"field":"t","type":"nominal"}}},
  {"data":{"name":"tg"},"transform":[{"filter":"datum.p == 8"}],"mark":{"type":"text","align":"right","baseline":"middle","font":"Liberation Serif","fontSize":26,"color":"black"},"encoding":{"x":{"field":"x","type":"quantitative"},"y":{"field":"y","type":"quantitative"},"text":{"field":"t","type":"nominal"}}},
  {"data":{"name":"nm"},"transform":[{"filter":"datum.p == 8"}],"mark":{"type":"text","align":"center","baseline":"middle","font":"Liberation Serif","fontSize":23,"color":"black"},"encoding":{"x":{"field":"x","type":"quantitative"},"y":{"field":"y","type":"quantitative"},"text":{"field":"t","type":"nominal"}}},
  {"data":{"name":"ar"},"transform":[{"filter":"datum.p == 8"}],"mark":{"type":"rule","color":"black","strokeWidth":1.2},"encoding":{"x":{"field":"x","type":"quantitative"},"y":{"field":"y","type":"quantitative"},"x2":{"field":"x2"},"y2":{"field":"y2"}}},
  {"data":{"name":"ar"},"transform":[{"filter":"datum.id == 12"}],"mark":{"type":"point","shape":"M -0.4 1 L 0 0 L 0.4 1","angle":236,"size":441,"filled":false,"color":"black","strokeWidth":1.2,"opacity":1},"encoding":{"x":{"field":"x2","type":"quantitative"},"y":{"field":"y2","type":"quantitative"}}}
 ]},
{"width":1264,"height":127,
 "title":{"text":"8B : RIF SIP I4 B / RIF SIP I4 B /","orient":"bottom","anchor":"start","frame":"group","offset":3,"dx":61},
 "layer":[
  {"data":{"name":"t9"},"mark":{"type":"line","color":"black","strokeWidth":1,"clip":true},
   "encoding":{"x":{"field":"x","type":"quantitative","scale":{"domain":[49.7,350],"nice":false,"zero":false},"axis":null},
    "y":{"field":"y","type":"quantitative","scale":{"domain":[-150,6300],"nice":false,"zero":false},"axis":{"values":[0,1500,3000,4500],"format":"d","offset":6,"tickSize":4,"labelPadding":1,"labelBaseline":"alphabetic","labelFontSize":11,"domain":false,"labelFlush":false}}}},
  {"data":{"name":"ti"},"transform":[{"filter":"datum.p == 9"}],"mark":{"type":"text","align":"left","baseline":"middle","font":"Liberation Serif","fontSize":26,"color":"black"},"encoding":{"x":{"field":"x","type":"quantitative"},"y":{"field":"y","type":"quantitative"},"text":{"field":"t","type":"nominal"}}},
  {"data":{"name":"tg"},"transform":[{"filter":"datum.p == 9"}],"mark":{"type":"text","align":"right","baseline":"middle","font":"Liberation Serif","fontSize":26,"color":"black"},"encoding":{"x":{"field":"x","type":"quantitative"},"y":{"field":"y","type":"quantitative"},"text":{"field":"t","type":"nominal"}}},
  {"data":{"name":"nm"},"transform":[{"filter":"datum.p == 9"}],"mark":{"type":"text","align":"center","baseline":"middle","font":"Liberation Serif","fontSize":23,"color":"black"},"encoding":{"x":{"field":"x","type":"quantitative"},"y":{"field":"y","type":"quantitative"},"text":{"field":"t","type":"nominal"}}},
  {"data":{"name":"ar"},"transform":[{"filter":"datum.p == 9"}],"mark":{"type":"rule","color":"black","strokeWidth":1.2},"encoding":{"x":{"field":"x","type":"quantitative"},"y":{"field":"y","type":"quantitative"},"x2":{"field":"x2"},"y2":{"field":"y2"}}},
  {"data":{"name":"ar"},"transform":[{"filter":"datum.id == 13"}],"mark":{"type":"point","shape":"M -0.4 1 L 0 0 L 0.4 1","angle":106,"size":441,"filled":false,"color":"black","strokeWidth":1.2,"opacity":1},"encoding":{"x":{"field":"x2","type":"quantitative"},"y":{"field":"y2","type":"quantitative"}}},
  {"data":{"name":"ar"},"transform":[{"filter":"datum.id == 14"}],"mark":{"type":"point","shape":"M -0.4 1 L 0 0 L 0.4 1","angle":222,"size":441,"filled":false,"color":"black","strokeWidth":1.2,"opacity":1},"encoding":{"x":{"field":"x2","type":"quantitative"},"y":{"field":"y2","type":"quantitative"}}},
  {"data":{"name":"ar"},"transform":[{"filter":"datum.id == 15"}],"mark":{"type":"point","shape":"M -0.4 1 L 0 0 L 0.4 1","angle":219,"size":441,"filled":false,"color":"black","strokeWidth":1.2,"opacity":1},"encoding":{"x":{"field":"x2","type":"quantitative"},"y":{"field":"y2","type":"quantitative"}}}
 ]}
]
}
